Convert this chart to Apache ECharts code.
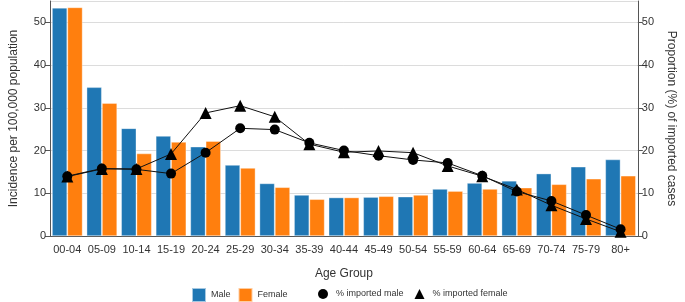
<!DOCTYPE html>
<html>
<head>
<meta charset="utf-8">
<script src="https://cdn.jsdelivr.net/npm/echarts@6/dist/echarts.min.js"></script>
<style>
  html, body { margin: 0; padding: 0; background: #fff; }
  #chart { width: 685px; height: 302px; }
</style>
</head>
<body>
<div id="chart"></div>
<script>
// Age groups on the x axis
const ageGroups = ["00-04", "05-09", "10-14", "15-19", "20-24", "25-29", "30-34", "35-39",
  "40-44", "45-49", "50-54", "55-59", "60-64", "65-69", "70-74", "75-79", "80+"];

// Incidence per 100,000 population (left axis)
const maleIncidence = [53.4, 34.8, 25.2, 23.4, 20.9, 16.6, 12.3, 9.6, 9.0, 9.1, 9.2, 11.0, 12.4, 12.9, 14.6, 16.2, 17.9];
const femaleIncidence = [53.5, 31.1, 19.3, 22.0, 22.2, 15.9, 11.4, 8.6, 9.0, 9.3, 9.6, 10.5, 11.0, 11.3, 12.1, 13.4, 14.1];

// Proportion (%) of imported cases (right axis)
const importedMale = [14.0, 15.8, 15.6, 14.6, 19.5, 25.2, 24.9, 21.8, 20.0, 18.8, 17.8, 17.1, 14.1, 10.4, 8.2, 4.9, 1.6];
const importedFemale = [13.9, 15.7, 15.7, 19.2, 28.8, 30.5, 27.9, 21.5, 19.6, 19.9, 19.5, 16.4, 14.0, 10.9, 7.2, 4.0, 1.0];

const textColor = "#333";
const axisColor = "#555";

const valueAxis = (name, position, rotate, gap) => ({
  type: "value",
  position: position,
  min: 0,
  max: 55,
  interval: 10,
  name: name,
  nameLocation: "middle",
  nameRotate: rotate,
  nameGap: gap,
  nameTextStyle: { color: textColor, fontSize: 12 },
  axisLine: { show: true, lineStyle: { color: axisColor } },
  axisTick: { show: true, length: 5, lineStyle: { color: axisColor } },
  axisLabel: { color: textColor, fontSize: 11, margin: 4, showMaxLabel: false },
  splitLine: { show: position === "left", lineStyle: { color: "#dcdcdc" } },
});

const option = {
  animation: false,
  grid: { left: 43, right: 35, top: 1, bottom: 66 },
  legend: [
    {
      left: 191,
      top: 287,
      padding: 0,
      itemWidth: 14,
      itemHeight: 14,
      itemGap: 7,
      textStyle: { fontSize: 9, color: textColor },
      data: [
        { name: "Male", icon: "rect" },
        { name: "Female", icon: "rect" },
      ],
    },
    {
      left: 318,
      top: 289,
      padding: 0,
      itemWidth: 10,
      itemHeight: 10,
      itemGap: 11,
      textStyle: { fontSize: 9, color: textColor, padding: [0, 0, 0, 3] },
      data: [
        { name: "% imported male", icon: "circle" },
        { name: "% imported female", icon: "triangle" },
      ],
    },
  ],
  xAxis: {
    type: "category",
    data: ageGroups,
    name: "Age Group",
    nameLocation: "middle",
    nameGap: 32,
    nameTextStyle: { color: textColor, fontSize: 12 },
    axisLine: { lineStyle: { color: axisColor } },
    axisTick: { alignWithLabel: true, length: 5, lineStyle: { color: axisColor } },
    axisLabel: { color: textColor, fontSize: 11, margin: 8, interval: 0 },
  },
  yAxis: [
    valueAxis("Incidence per 100,000 population", "left", 90, 30),
    valueAxis("Proportion (%) of imported cases", "right", -90, 26),
  ],
  series: [
    {
      name: "Male",
      type: "bar",
      data: maleIncidence,
      barGap: "2%",
      barCategoryGap: "12%",
      itemStyle: { color: "#1f77b4", borderColor: "rgba(255,255,255,0.6)", borderWidth: 0.6 },
    },
    {
      name: "Female",
      type: "bar",
      data: femaleIncidence,
      itemStyle: { color: "#ff7f0e", borderColor: "rgba(255,255,255,0.6)", borderWidth: 0.6 },
    },
    {
      name: "% imported male",
      type: "line",
      yAxisIndex: 1,
      data: importedMale,
      symbol: "circle",
      symbolSize: 10,
      lineStyle: { color: "#111", width: 1 },
      itemStyle: { color: "#000" },
    },
    {
      name: "% imported female",
      type: "line",
      yAxisIndex: 1,
      data: importedFemale,
      symbol: "triangle",
      symbolSize: 12,
      lineStyle: { color: "#111", width: 1 },
      itemStyle: { color: "#000" },
    },
  ],
};

const myChart = echarts.init(document.getElementById("chart"));
myChart.setOption(option);
</script>
</body>
</html>
